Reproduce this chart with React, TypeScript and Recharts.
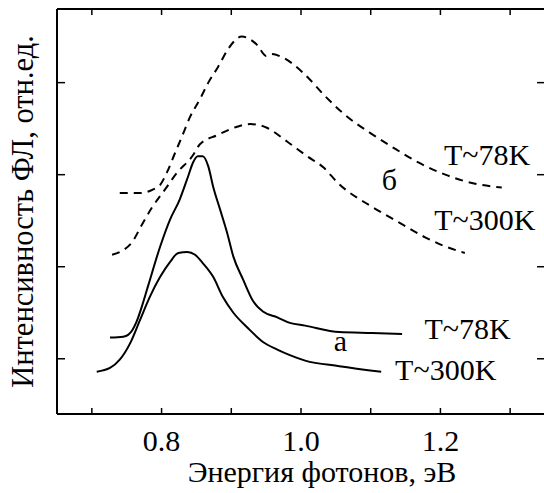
import React from 'react';
import { LineChart, Line, XAxis, YAxis, ReferenceDot, Label } from 'recharts';

const FONT = "'Liberation Serif', 'Times New Roman', serif";

// [энергия, эВ ; интенсивность, отн.ед.]
const curveA78: [number, number][] = [
    [0.726, 0.23], [0.745, 0.24], [0.752, 0.26], [0.758, 0.31], [0.764, 0.40],
    [0.771, 0.55], [0.781, 0.80], [0.798, 1.22], [0.812, 1.51], [0.826, 1.73],
    [0.838, 1.98], [0.845, 2.13], [0.852, 2.20], [0.859, 2.20], [0.867, 2.09],
    [0.874, 1.87], [0.884, 1.62], [0.894, 1.37], [0.903, 1.11], [0.917, 0.86],
    [0.931, 0.63], [0.946, 0.51], [0.966, 0.45], [0.984, 0.39], [1.006, 0.36],
    [1.055, 0.29], [1.102, 0.28], [1.145, 0.27],
];

const curveA300: [number, number][] = [
    [0.707, -0.14], [0.726, -0.10], [0.740, -0.01], [0.755, 0.17], [0.769, 0.42],
    [0.783, 0.67], [0.798, 0.89], [0.812, 1.05], [0.824, 1.15], [0.837, 1.16],
    [0.848, 1.13], [0.859, 1.04], [0.874, 0.89], [0.888, 0.67], [0.903, 0.50],
    [0.923, 0.34], [0.946, 0.18], [0.966, 0.10], [0.984, 0.04], [1.006, -0.02],
    [1.055, -0.08], [1.115, -0.14],
];

const curveB78: [number, number][] = [
    [0.740, 1.80], [0.769, 1.80], [0.788, 1.84], [0.798, 1.89], [0.808, 2.03],
    [0.819, 2.23], [0.829, 2.41], [0.841, 2.63], [0.855, 2.82], [0.867, 3.00],
    [0.881, 3.17], [0.895, 3.36], [0.915, 3.50], [0.937, 3.41], [0.950, 3.29],
    [0.958, 3.31], [0.972, 3.28], [1.004, 3.10], [1.035, 2.85], [1.063, 2.65],
    [1.098, 2.46], [1.131, 2.30], [1.169, 2.13], [1.207, 2.00], [1.245, 1.91],
    [1.288, 1.86],
];

const curveB300: [number, number][] = [
    [0.729, 1.13], [0.740, 1.16], [0.758, 1.27], [0.772, 1.46], [0.786, 1.64],
    [0.805, 1.84], [0.822, 2.02], [0.844, 2.20], [0.855, 2.33], [0.880, 2.43],
    [0.908, 2.52], [0.927, 2.55], [0.951, 2.51], [0.980, 2.36], [1.009, 2.20],
    [1.032, 2.08], [1.053, 1.91], [1.102, 1.65], [1.141, 1.48], [1.178, 1.32],
    [1.207, 1.22], [1.235, 1.15],
];

const xTicks = [0.7, 0.8, 0.9, 1.0, 1.1, 1.2, 1.3];
const xTickLabels = ['0.8', '1.0', '1.2'];
const yTicks = [0, 1, 2, 3];

// подписи на поле графика: левый край текста и базовая линия
const notes = [
    { e: 1.205, v: 2.10, text: 'T~78K' },
    { e: 1.116, v: 1.83, text: 'б' },
    { e: 1.191, v: 1.40, text: 'T~300K' },
    { e: 1.177, v: 0.22, text: 'T~78K' },
    { e: 1.047, v: 0.08, text: 'а' },
    { e: 1.135, v: -0.23, text: 'T~300K' },
];

const series = [
    { key: 'a78', points: curveA78, dashed: false },
    { key: 'a300', points: curveA300, dashed: false },
    { key: 'b78', points: curveB78, dashed: true },
    { key: 'b300', points: curveB300, dashed: true },
];

const toRows = (pts: [number, number][]) => pts.map(([e, v]) => ({ e, v }));

const txt = { fontFamily: FONT, fill: '#000' };

const BottomTick = (props: any) => {
    const { x, y, payload } = props;
    const label = Number(payload.value).toFixed(1);
    return (
        <g>
            <line x1={x} y1={y} x2={x} y2={y - 6} stroke="#000" strokeWidth={1.5} />
            {xTickLabels.includes(label) && (
                <text x={x} y={y + 37} textAnchor="middle" fontSize={30} style={txt}>
                    {label}
                </text>
            )}
        </g>
    );
};

const TopTick = (props: any) => (
    <line x1={props.x} y1={props.y} x2={props.x} y2={props.y + 6} stroke="#000" strokeWidth={1.5} />
);

const LeftTick = (props: any) => (
    <line x1={props.x} y1={props.y} x2={props.x + 8} y2={props.y} stroke="#000" strokeWidth={1.5} />
);

const RightTick = (props: any) => (
    <line x1={props.x} y1={props.y} x2={props.x - 8} y2={props.y} stroke="#000" strokeWidth={1.5} />
);

export default function App() {
    return (
        <div style={{ position: 'fixed', left: 0, top: 0, width: 544, height: 493, overflow: 'hidden', background: '#fff' }}>
            <LineChart width={560} height={493} margin={{ top: 8, right: 14, bottom: 78, left: 56 }}>
                <XAxis
                    type="number"
                    dataKey="e"
                    domain={[0.65, 1.35]}
                    ticks={xTicks}
                    interval={0}
                    allowDataOverflow
                    height={1}
                    tickSize={0}
                    tickMargin={0}
                    tickLine={false}
                    tick={<BottomTick />}
                    axisLine={{ stroke: '#000', strokeWidth: 2 }}
                >
                    <Label
                        content={(p: any) => {
                            const vb = p.viewBox;
                            return (
                                <text x={vb.x + vb.width / 2 + 21} y={vb.y + 68} textAnchor="middle" fontSize={30} style={txt}>
                                    Энергия фотонов, эВ
                                </text>
                            );
                        }}
                    />
                </XAxis>
                <XAxis
                    xAxisId="top"
                    orientation="top"
                    type="number"
                    dataKey="e"
                    domain={[0.65, 1.35]}
                    ticks={xTicks}
                    interval={0}
                    allowDataOverflow
                    height={1}
                    tickSize={0}
                    tickMargin={0}
                    tickLine={false}
                    tick={<TopTick />}
                    axisLine={{ stroke: '#000', strokeWidth: 2 }}
                />
                <YAxis
                    type="number"
                    domain={[-0.6, 3.8]}
                    ticks={yTicks}
                    interval={0}
                    allowDataOverflow
                    width={1}
                    tickSize={0}
                    tickMargin={0}
                    tickLine={false}
                    tick={<LeftTick />}
                    axisLine={{ stroke: '#000', strokeWidth: 2 }}
                >
                    <Label
                        content={(p: any) => {
                            const vb = p.viewBox;
                            const cx = vb.x - 23;
                            const cy = vb.y + vb.height / 2;
                            return (
                                <text x={cx} y={cy} transform={`rotate(-90 ${cx} ${cy})`} textAnchor="middle" fontSize={30.5} style={txt}>
                                    Интенсивность ФЛ, отн.ед.
                                </text>
                            );
                        }}
                    />
                </YAxis>
                <YAxis
                    yAxisId="right"
                    orientation="right"
                    type="number"
                    domain={[-0.6, 3.8]}
                    ticks={yTicks}
                    interval={0}
                    allowDataOverflow
                    width={1}
                    tickSize={0}
                    tickMargin={0}
                    tickLine={false}
                    tick={<RightTick />}
                    axisLine={{ stroke: '#000', strokeWidth: 2 }}
                />
                {series.map(s => (
                    <Line
                        key={s.key}
                        data={toRows(s.points)}
                        dataKey="v"
                        type="monotone"
                        stroke="#000"
                        strokeWidth={2}
                        strokeDasharray={s.dashed ? '8 6' : undefined}
                        dot={false}
                        activeDot={false}
                        isAnimationActive={false}
                    />
                ))}
                {notes.map((n, i) => (
                    <ReferenceDot
                        key={i}
                        x={n.e}
                        y={n.v}
                        r={0}
                        fill="none"
                        stroke="none"
                        label={(p: any) => (
                            <text x={p.viewBox.x} y={p.viewBox.y} fontSize={30} style={txt}>
                                {n.text}
                            </text>
                        )}
                    />
                ))}
            </LineChart>
        </div>
    );
}
